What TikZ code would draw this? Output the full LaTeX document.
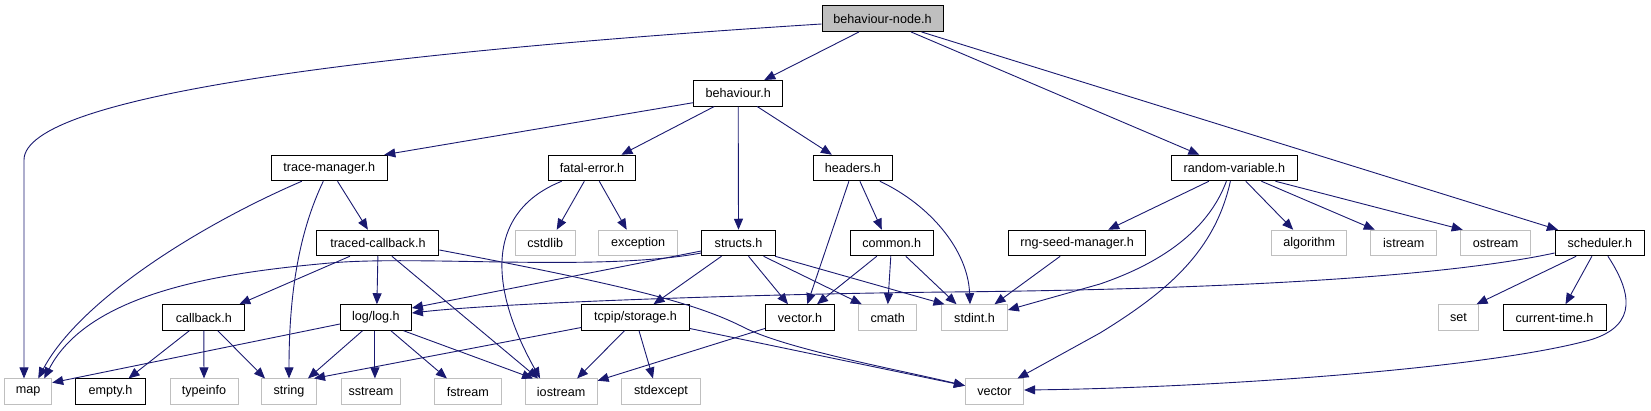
\documentclass[tikz,border=0pt]{standalone}
\usepackage{fontspec}
\setmainfont{Liberation Sans}
\usetikzlibrary{arrows.meta}
\definecolor{edgeblue}{HTML}{191970}
\definecolor{sysgray}{HTML}{BFBFBF}
\begin{document}
\begin{tikzpicture}[x=1pt,y=-1pt,
  box/.style={draw=black,line width=1pt,minimum height=25.5pt,inner sep=0pt,font=\fontsize{12.6}{14}\selectfont},
  sys/.style={box,draw=sysgray},
  root/.style={box,fill=sysgray},
  dep/.style={draw=edgeblue,line width=0.9pt,-{Triangle[length=11pt,width=9pt]},fill=none}
]
\useasboundingbox (0,0) rectangle (1651,411);
% row 1
\node[root,minimum width=121pt] (bn) at (882.5,18.7) {behaviour-node.h};
% row 2
\node[box,minimum width=89pt] (beh) at (738.2,93.3) {behaviour.h};
% row 3
\node[box,minimum width=116pt] (tm) at (329.3,168) {trace-manager.h};
\node[box,minimum width=87.5pt] (fe) at (592,168) {fatal-error.h};
\node[box,minimum width=78.5pt] (hd) at (852.9,168) {headers.h};
\node[box,minimum width=125.4pt] (rv) at (1234.4,168) {random-variable.h};
% row 4
\node[box,minimum width=122pt] (tc) at (377.9,243) {traced-callback.h};
\node[sys,minimum width=60.3pt] (cstd) at (545.2,243) {cstdlib};
\node[sys,minimum width=78.6pt] (exc) at (638.2,243) {exception};
\node[box,minimum width=73.6pt] (st) at (738.5,243) {structs.h};
\node[box,minimum width=83pt] (cm) at (891.8,243) {common.h};
\node[box,minimum width=137pt] (rng) at (1077.2,243) {rng-seed-manager.h};
\node[sys,minimum width=75pt] (alg) at (1309.2,243) {algorithm};
\node[sys,minimum width=65.7pt] (ist) at (1403.8,243) {istream};
\node[sys,minimum width=69.6pt] (ost) at (1495.7,243) {ostream};
\node[box,minimum width=89.6pt] (sch) at (1599.9,243) {scheduler.h};
% row 5
\node[box,minimum width=81.7pt] (cb) at (203.8,317.5) {callback.h};
\node[box,minimum width=71pt] (log) at (375.9,317.5) {log/log.h};
\node[box,minimum width=107.6pt] (tcp) at (635.5,317.5) {tcpip/storage.h};
\node[box,minimum width=69.3pt] (vh) at (800,317.5) {vector.h};
\node[sys,minimum width=58.3pt] (cmath) at (887.8,317.5) {cmath};
\node[sys,minimum width=65.7pt] (sint) at (974.5,317.5) {stdint.h};
\node[sys,minimum width=40pt] (set) at (1458.5,317.5) {set};
\node[box,minimum width=103pt] (ct) at (1554.5,317.5) {current-time.h};
% row 6
\node[sys,minimum width=47pt] (map) at (28.2,391.7) {map};
\node[box,minimum width=69.7pt] (empty) at (110.5,391.7) {empty.h};
\node[sys,minimum width=68pt] (ti) at (204,391.7) {typeinfo};
\node[sys,minimum width=54.3pt] (str) at (289,391.7) {string};
\node[sys,minimum width=59.6pt] (ss) at (370.9,391.7) {sstream};
\node[sys,minimum width=66.4pt] (fs) at (467.9,391.7) {fstream};
\node[sys,minimum width=72pt] (ios) at (561.1,391.7) {iostream};
\node[sys,minimum width=78.7pt] (sexc) at (661,391.7) {stdexcept};
\node[sys,minimum width=58.2pt] (vec) at (994.5,391.7) {vector};

% edges from behaviour-node.h
\draw[dep] ([yshift=-5.3pt]bn.west) .. controls (380,52) and (24,95) .. (24,160) -- ([xshift=-4.2pt]map.north);
\draw[dep] ([xshift=-23.5pt]bn.south) -- ([xshift=26pt]beh.north);
\draw[dep] ([xshift=28.5pt]bn.south) -- ([xshift=-35pt]rv.north);
\draw[dep] ([xshift=39pt]bn.south) -- ([xshift=-42pt]sch.north);
% behaviour.h
\draw[dep] ([yshift=-9.4pt]beh.west) -- ([xshift=55pt]tm.north);
\draw[dep] ([xshift=-24pt]beh.south) -- ([xshift=29.4pt]fe.north);
\draw[dep] (beh.south) -- (st.north);
\draw[dep] ([xshift=19pt]beh.south) -- ([xshift=-21pt]hd.north);
% trace-manager.h
\draw[dep] ([xshift=-27.5pt]tm.south) .. controls (200,225) and (80,300) .. ([xshift=10pt]map.north);
\draw[dep] ([xshift=-6pt]tm.south) .. controls (300,230) and (289,290) .. (str.north);
\draw[dep] ([xshift=8.2pt]tm.south) -- ([xshift=-10pt]tc.north);
% fatal-error.h
\draw[dep] ([xshift=-30.3pt]fe.south) .. controls (490,210) and (485,280) .. ([xshift=-21pt]ios.north);
\draw[dep] ([xshift=-7.7pt]fe.south) -- ([xshift=11.5pt]cstd.north);
\draw[dep] ([xshift=7.3pt]fe.south) -- ([xshift=-11.5pt]exc.north);
% headers.h
\draw[dep] ([xshift=-4pt]hd.south) -- ([xshift=7.3pt]vh.north);
\draw[dep] ([xshift=7pt]hd.south) -- ([xshift=-10pt]cm.north);
\draw[dep] ([xshift=27pt]hd.south) .. controls (930,205) and (968,250) .. ([xshift=-4.5pt]sint.north);
% traced-callback.h
\draw[dep] ([xshift=-28pt]tc.south) -- ([xshift=35.5pt]cb.north);
\draw[dep] (tc.south) -- ([xshift=1pt]log.north);
\draw[dep] ([xshift=14pt]tc.south) -- ([xshift=-23pt]ios.north);
\draw[dep] ([yshift=-7pt]tc.east) .. controls (640,288) and (700,305) .. (745,328) .. controls (790,350) and (900,370) .. ([yshift=6pt]vec.west);
% structs.h
\draw[dep] ([yshift=-10pt]st.west) .. controls (600,272) and (420,255) .. (330,263) .. controls (230,272) and (90,290) .. ([xshift=16pt]map.north);
\draw[dep] ([yshift=-8pt]st.west) -- ([yshift=9.5pt]log.east);
\draw[dep] ([xshift=-17pt]st.south) -- ([xshift=18pt]tcp.north);
\draw[dep] ([xshift=10pt]st.south) -- ([xshift=-12pt]vh.north);
\draw[dep] ([xshift=25pt]st.south) -- ([xshift=-26pt]cmath.north);
\draw[dep] ([xshift=36.5pt]st.south) -- ([xshift=-30pt]sint.north);
% common.h
\draw[dep] ([xshift=-15pt]cm.south) -- ([xshift=17pt]vh.north);
\draw[dep] ([xshift=-1pt]cm.south) -- (cmath.north);
\draw[dep] ([xshift=14pt]cm.south) -- ([xshift=-18pt]sint.north);
% random-variable.h
\draw[dep] ([xshift=-25.5pt]rv.south) -- ([xshift=31pt]rng.north);
\draw[dep] ([xshift=-8pt]rv.south) .. controls (1210,225) and (1170,260) .. (1100,284) -- ([yshift=7.5pt]sint.east);
\draw[dep] ([xshift=-4pt]rv.south) .. controls (1215,250) and (1170,290) .. (1100,333) -- ([xshift=23pt]vec.north);
\draw[dep] ([xshift=11.4pt]rv.south) -- ([xshift=-16pt]alg.north);
\draw[dep] ([xshift=27pt]rv.south) -- ([xshift=-29pt]ist.north);
\draw[dep] ([xshift=41pt]rv.south) -- ([xshift=-33pt]ost.north);
% rng-seed-manager.h
\draw[dep] ([xshift=-17pt]rng.south) -- ([xshift=20pt]sint.north);
% scheduler.h
\draw[dep] ([yshift=-10pt]sch.west) .. controls (1420,282) and (1150,290) .. (950,292) .. controls (750,294) and (500,303) .. ([yshift=4.5pt]log.east);
\draw[dep] ([xshift=-23.7pt]sch.south) -- ([xshift=18pt]set.north);
\draw[dep] ([xshift=-8pt]sch.south) -- ([xshift=11pt]ct.north);
\draw[dep] ([xshift=8pt]sch.south) .. controls (1630,290) and (1640,325) .. (1590,340) .. controls (1480,370) and (1200,388) .. ([yshift=1.7pt]vec.east);
% callback.h
\draw[dep] ([xshift=-14.5pt]cb.south) -- ([xshift=18pt]empty.north);
\draw[dep] (cb.south) -- (ti.north);
\draw[dep] ([xshift=14pt]cb.south) -- ([xshift=-24pt]str.north);
% log/log.h
\draw[dep] ([yshift=-6.5pt]log.west) -- ([yshift=9pt]map.east);
\draw[dep] ([xshift=-13.4pt]log.south) -- ([xshift=19pt]str.north);
\draw[dep] ([xshift=-1pt]log.south) -- ([xshift=4pt]ss.north);
\draw[dep] ([xshift=15pt]log.south) -- ([xshift=-21pt]fs.north);
\draw[dep] ([xshift=27.7pt]log.south) -- ([xshift=-28pt]ios.north);
% tcpip/storage.h
\draw[dep] ([yshift=-10pt]tcp.west) -- ([xshift=25pt]str.north);
\draw[dep] ([xshift=-11pt]tcp.south) -- ([xshift=16pt]ios.north);
\draw[dep] ([xshift=3.5pt]tcp.south) -- ([xshift=-8pt]sexc.north);
\draw[dep] ([yshift=-11pt]tcp.east) -- ([yshift=6pt]vec.west);
% vector.h
\draw[dep] ([yshift=-11pt]vh.west) -- ([yshift=11pt]ios.east);
\end{tikzpicture}
\end{document}
